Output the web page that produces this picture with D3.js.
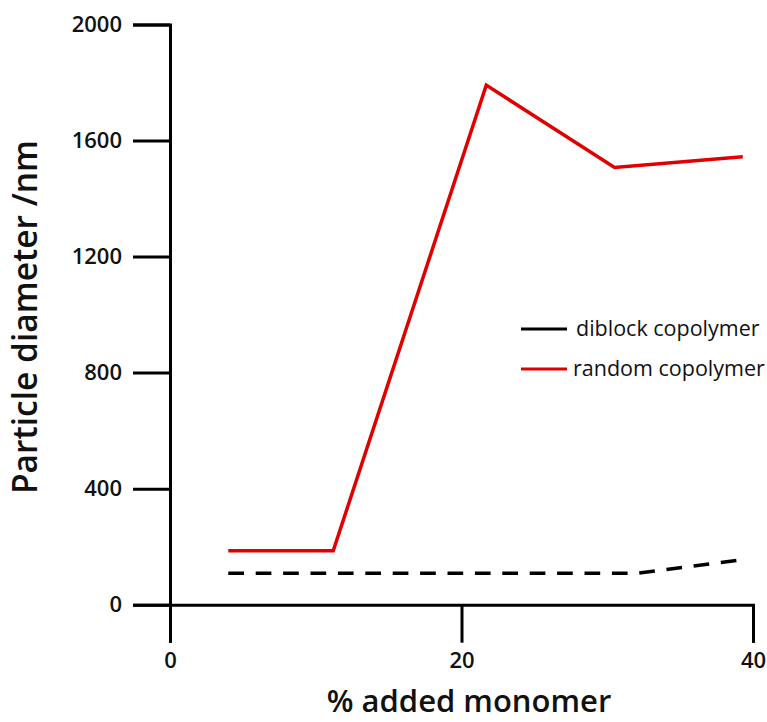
<!DOCTYPE html>
<html>
<head>
<meta charset="utf-8">
<script src="https://cdn.jsdelivr.net/npm/d3@7/dist/d3.min.js"></script>
<style>
  html, body { margin: 0; padding: 0; background: #fff; }
  svg { display: block; }
  text { font-family: "Open Sans", "DejaVu Sans", sans-serif; fill: #111; }
</style>
</head>
<body>
<svg id="chart" width="767" height="722"></svg>
<script>
// Particle diameter vs. % added monomer
const xTicks = [0, 20, 40];
const yTicks = [0, 400, 800, 1200, 1600, 2000];

const randomX = [4, 11.2, 21.7, 30.5, 39.3];
const randomY = [186, 186, 1791, 1507, 1544];

const diblockX = [4, 32, 39.3];
const diblockY = [108, 108, 155];

const seriesNames = ["diblock copolymer", "random copolymer"];
const seriesColors = ["#000000", "#e00000"];

const svg = d3.select("#chart");

const x = d3.scaleLinear().domain([0, 40]).range([170, 753]);
const y = d3.scaleLinear().domain([0, 2000]).range([604.7, 24.5]);

const axisStroke = 3;

// y axis
const gy = svg.append("g")
  .attr("transform", `translate(${x(0)},0)`)
  .call(d3.axisLeft(y).tickValues(yTicks).tickSize(37).tickPadding(11).tickFormat(d3.format("d")));
gy.selectAll("path, line").attr("stroke", "#000").attr("stroke-width", axisStroke);
gy.selectAll("text").style("font-size", "22px").style("font-weight", 600)
  .style("font-family", "'Open Sans', sans-serif").attr("fill", "#111");

// x axis
const gx = svg.append("g")
  .attr("transform", `translate(0,${y(0)})`)
  .call(d3.axisBottom(x).tickValues(xTicks).tickSize(38).tickPadding(10).tickFormat(d3.format("d")));
gx.selectAll("path, line").attr("stroke", "#000").attr("stroke-width", axisStroke);
gx.selectAll("text").style("font-size", "22px").style("font-weight", 600)
  .style("font-family", "'Open Sans', sans-serif").attr("fill", "#111");

// series lines
const line = d3.line().x(d => x(d[0])).y(d => y(d[1]));

svg.append("path")
  .datum(d3.zip(diblockX, diblockY))
  .attr("d", line)
  .attr("fill", "none")
  .attr("stroke", seriesColors[0])
  .attr("stroke-width", 3.5)
  .attr("stroke-dasharray", "15.7,11.7");

svg.append("path")
  .datum(d3.zip(randomX, randomY))
  .attr("d", line)
  .attr("fill", "none")
  .attr("stroke", seriesColors[1])
  .attr("stroke-width", 3.5)
  .attr("stroke-linejoin", "miter");

// legend
const legend = svg.append("g").attr("transform", "translate(521,329)");
seriesNames.forEach((name, i) => {
  const g = legend.append("g").attr("transform", `translate(0,${i * 40})`);
  g.append("line")
    .attr("x1", 0).attr("x2", 46)
    .attr("y1", 0).attr("y2", 0)
    .attr("stroke", seriesColors[i])
    .attr("stroke-width", 3);
  g.append("text")
    .attr("x", i === 0 ? 55 : 52)
    .attr("y", 7)
    .style("font-size", "21.5px")
    .text(name);
});

// axis titles
svg.append("text")
  .attr("x", 469)
  .attr("y", 712)
  .attr("text-anchor", "middle")
  .style("font-size", "31px")
  .style("font-weight", 600)
  .text("% added monomer");

svg.append("text")
  .attr("transform", "translate(37,317) rotate(-90)")
  .attr("text-anchor", "middle")
  .style("font-size", "33.5px")
  .style("font-weight", 600)
  .text("Particle diameter /nm");
</script>
</body>
</html>
